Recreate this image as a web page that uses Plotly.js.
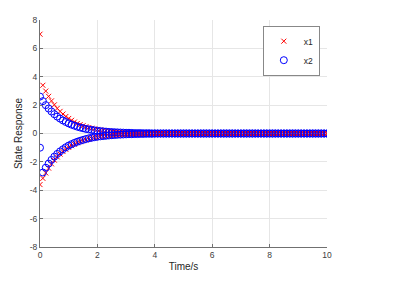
<!DOCTYPE html>
<html>
<head>
<meta charset="utf-8">
<script src="https://cdn.plot.ly/plotly-3.0.1.min.js"></script>
<style>html,body{margin:0;padding:0;background:#fff;}#plot{width:394px;height:281px;}</style>
</head>
<body>
<div id="plot"></div>
<script>
const time = [0,0.1,0.2,0.3,0.4,0.5,0.6,0.7,0.8,0.9,1,1.1,1.2,1.3,1.4,1.5,1.6,1.7,1.8,1.9,2,2.1,2.2,2.3,2.4,2.5,2.6,2.7,2.8,2.9,3,3.1,3.2,3.3,3.4,3.5,3.6,3.7,3.8,3.9,4,4.1,4.2,4.3,4.4,4.5,4.6,4.7,4.8,4.9,5,5.1,5.2,5.3,5.4,5.5,5.6,5.7,5.8,5.9,6,6.1,6.2,6.3,6.4,6.5,6.6,6.7,6.8,6.9,7,7.1,7.2,7.3,7.4,7.5,7.6,7.7,7.8,7.9,8,8.1,8.2,8.3,8.4,8.5,8.6,8.7,8.8,8.9,9,9.1,9.2,9.3,9.4,9.5,9.6,9.7,9.8,9.9,10];

const x1Upper = [7,3.4,2.99,2.62,2.30,2.02,1.77,1.56,1.37,1.20,1.06,0.93,0.81,0.71,0.63,0.55,0.48,0.42,0.37,0.33,0.29,0.25,0.22,0.20,0.17,0.15,0.13,0.12,0.10,0.09,0.08,0.07,0.06,0.05,0.04,0.04,0.03,0.03,0.02,0.02,0.02,
0,0,0,0,0,0,0,0,0,0,0,0,0,0,0,0,0,0,0,0,0,0,0,0,0,0,0,0,0,0,0,0,0,0,0,0,0,0,0,0,0,0,0,0,0,0,0,0,0,0,0,0,0,0,0,0,0,0,0,0];
const x1Lower = [-3.6,-3.16,-2.78,-2.44,-2.14,-1.88,-1.65,-1.45,-1.27,-1.12,-0.98,-0.86,-0.76,-0.66,-0.58,-0.51,-0.45,-0.39,-0.35,-0.30,-0.27,-0.23,-0.21,-0.18,-0.16,-0.14,-0.12,-0.11,-0.09,-0.08,-0.07,-0.06,-0.05,-0.05,-0.04,-0.04,-0.03,-0.03,-0.02,-0.02,-0.02,
0,0,0,0,0,0,0,0,0,0,0,0,0,0,0,0,0,0,0,0,0,0,0,0,0,0,0,0,0,0,0,0,0,0,0,0,0,0,0,0,0,0,0,0,0,0,0,0,0,0,0,0,0,0,0,0,0,0,0,0];
const x2Upper = [2.6,2.28,2.00,1.76,1.55,1.36,1.19,1.05,0.92,0.81,0.71,0.62,0.55,0.48,0.42,0.37,0.32,0.29,0.25,0.22,0.19,0.17,0.15,0.13,0.11,0.10,0.09,0.08,0.07,0.06,0.05,0.05,0.04,0.03,0.03,0.03,0.02,0.02,0.02,0.01,0.01,
0,0,0,0,0,0,0,0,0,0,0,0,0,0,0,0,0,0,0,0,0,0,0,0,0,0,0,0,0,0,0,0,0,0,0,0,0,0,0,0,0,0,0,0,0,0,0,0,0,0,0,0,0,0,0,0,0,0,0,0];
const x2Lower = [-1,-2.75,-2.41,-2.12,-1.86,-1.63,-1.44,-1.26,-1.11,-0.97,-0.85,-0.75,-0.66,-0.58,-0.51,-0.45,-0.39,-0.34,-0.30,-0.26,-0.23,-0.20,-0.18,-0.16,-0.14,-0.12,-0.11,-0.09,-0.08,-0.07,-0.06,-0.05,-0.05,-0.04,-0.04,-0.03,-0.03,-0.02,-0.02,-0.02,-0.01,
0,0,0,0,0,0,0,0,0,0,0,0,0,0,0,0,0,0,0,0,0,0,0,0,0,0,0,0,0,0,0,0,0,0,0,0,0,0,0,0,0,0,0,0,0,0,0,0,0,0,0,0,0,0,0,0,0,0,0,0];

const seriesNames = ['x1', 'x2'];
const xTicks = [0, 2, 4, 6, 8, 10];
const yTicks = [-8, -6, -4, -2, 0, 2, 4, 6, 8];

const FONT = 'Liberation Sans, Arial, sans-serif';
const redMarker = {symbol: 'x-thin-open', size: 5, color: '#ff0000', line: {color: '#ff0000', width: 1}};
const blueMarker = {symbol: 'circle-open', size: 7, color: '#0000ff', line: {color: '#0000ff', width: 1}};

const traces = [
  {x: time, y: x1Upper, type: 'scatter', mode: 'markers', name: seriesNames[0], marker: redMarker, legendgroup: 'a'},
  {x: time, y: x2Upper, type: 'scatter', mode: 'markers', name: seriesNames[1], marker: blueMarker, legendgroup: 'b'},
  {x: time, y: x1Lower, type: 'scatter', mode: 'markers', name: seriesNames[0], marker: redMarker, legendgroup: 'a', showlegend: false},
  {x: time, y: x2Lower, type: 'scatter', mode: 'markers', name: seriesNames[1], marker: blueMarker, legendgroup: 'b', showlegend: false}
];

const axisCommon = {
  showgrid: true, gridcolor: '#e6e6e6', gridwidth: 1,
  zeroline: false, showline: true, linecolor: '#707070', linewidth: 1,
  ticks: 'inside', ticklen: 3, tickcolor: '#707070',
  tickfont: {family: FONT, size: 8.5, color: '#404040'}
};

const layout = {
  width: 394, height: 281,
  margin: {l: 40, r: 67, t: 20, b: 34},
  paper_bgcolor: '#ffffff', plot_bgcolor: '#ffffff',
  showlegend: true,
  xaxis: Object.assign({}, axisCommon, {
    range: [0, 10], tickvals: xTicks, ticktext: xTicks.map(String),
    title: {text: 'Time/s', font: {family: FONT, size: 10, color: '#262626'}, standoff: 3}
  }),
  yaxis: Object.assign({}, axisCommon, {
    range: [-8, 8], tickvals: yTicks, ticktext: yTicks.map(String),
    title: {text: 'State Response', font: {family: FONT, size: 10, color: '#262626'}, standoff: 5}
  }),
  legend: {
    x: 0.975, y: 0.975, xanchor: 'right', yanchor: 'top',
    bgcolor: '#ffffff', bordercolor: '#888', borderwidth: 1,
    font: {family: FONT, size: 8.5, color: '#262626'},
    itemwidth: 30, tracegroupgap: 0
  }
};

Plotly.newPlot('plot', traces, layout, {displayModeBar: false, staticPlot: true});
</script>
</body>
</html>
